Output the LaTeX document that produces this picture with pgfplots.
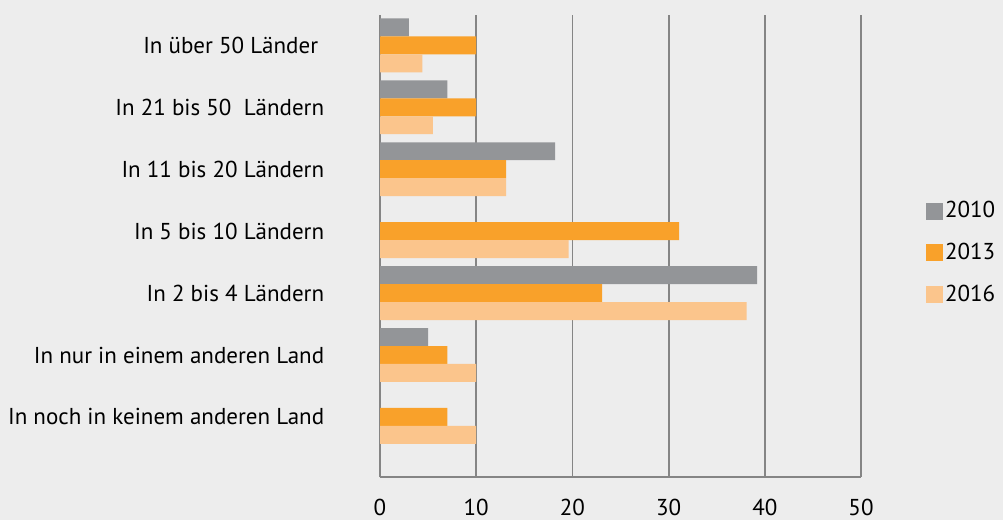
\documentclass[border=0pt]{standalone}
\usepackage{fontspec}
\setmainfont{PT Sans}
\usepackage{pgfplots}
\pgfplotsset{compat=1.18}
\definecolor{bg}{HTML}{EDEDED}
\definecolor{c10}{HTML}{939598}
\definecolor{c13}{HTML}{F9A12A}
\definecolor{c16}{HTML}{FBC58C}
\definecolor{gridc}{HTML}{858585}
\begin{document}
\fontsize{23}{27}\selectfont
\begin{tikzpicture}[x=1pt,y=1pt]
\path[use as bounding box, fill=bg] (0,0) rectangle (1003,520);
\begin{axis}[
  at={(380pt,43pt)}, anchor=south west,
  scale only axis, width=481pt, height=462pt,
  xbar, bar width=0.29,
  xmin=0, xmax=50, ymin=-0.97, ymax=6.49,
  xtick={0,10,...,50}, ytick={0,...,6},
  yticklabels={In noch in keinem anderen Land, In nur in einem anderen Land, In 2 bis 4 Ländern, In 5 bis 10 Ländern, In 11 bis 20 Ländern, In 21 bis 50\ \ Ländern, In über 50 Länder\hspace*{6pt}},
  axis lines=left, axis line style={-, draw=gridc, line width=1.8pt},
  xmajorgrids, grid style={draw=gridc, line width=1.8pt},
  major tick length=0pt,
  /pgf/number format/assume math mode=true,
  yticklabel style={xshift=-48pt},
  xticklabel style={yshift=-14pt},
  legend style={at={(1.135,0.485)}, anchor=west, draw=none, fill=none, inner sep=0pt, row sep=18pt,
    /tikz/every even column/.append style={column sep=7pt}},
  legend cell align=left,
  legend image code/.code={\fill[#1] (0pt,-8.5pt) rectangle (17pt,8.5pt);},
]
\addplot[fill=c10, draw=none, bar shift=0.29] coordinates {(3,6) (7,5) (18.2,4) (39.2,2) (5,1)};
\addplot[fill=c13, draw=none, bar shift=0] coordinates {(10,6) (10,5) (13.1,4) (31.1,3) (23.1,2) (7,1) (7,0)};
\addplot[fill=c16, draw=none, bar shift=-0.29] coordinates {(4.4,6) (5.5,5) (13.1,4) (19.6,3) (38.1,2) (10,1) (10,0)};
\legend{2010,2013,2016}
\end{axis}
\end{tikzpicture}
\end{document}
